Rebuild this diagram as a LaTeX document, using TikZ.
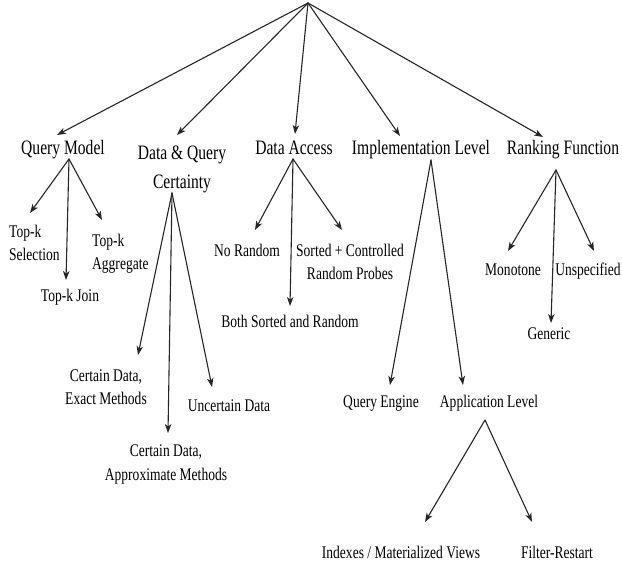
\documentclass[tikz,border=0pt]{standalone}
\usepackage{fontspec}
\setmainfont{Liberation Serif}[FakeStretch=0.76]
\usetikzlibrary{calc}
% arrow from #1 to #2, head drawn as a plain filled path
\newcommand\treeedge[2]{%
    \draw[edge,shorten >=5pt] (#1)--(#2);
    \fill[black!85] (#2) -- ($(#2)!9pt!(#1)!3.3pt!90:(#1)$) -- ($(#2)!6.5pt!(#1)$)
    -- ($(#2)!9pt!(#1)!3.3pt!-90:(#1)$) -- cycle;}
\begin{document}
\begin{tikzpicture}[x=1pt,y=1pt,line cap=round,
    cat/.style={anchor=base,inner sep=0pt,align=center,text=black,font=\fontsize{20.5}{29}\selectfont},
    leaf/.style={anchor=base,inner sep=0pt,align=center,text=black,font=\fontsize{17.8}{23.5}\selectfont},
    edge/.style={draw=black!85,line width=1.1pt}]
    \useasboundingbox (0,0) rectangle (622,-564);
    % top of the tree
    \coordinate (root) at (308,-3);
    % first level
    \node[cat] (qm) at (63,-155) {Query Model};
    \node[cat] (dqc) at (182,-189) {Data \& Query\\Certainty};
    \node[cat] (da) at (294,-155) {Data Access};
    \node[cat] (il) at (421,-155) {Implementation Level};
    \node[cat] (rf) at (563,-155) {Ranking Function};
    \coordinate (qm-t) at (57,-135);
    \coordinate (dqc-t) at (177,-135);
    \coordinate (da-t) at (295,-134);
    \coordinate (il-t) at (400,-136);
    \coordinate (rf-t) at (543,-137);
    \coordinate (qm-a) at (69,-159);
    \coordinate (dqc-a) at (172,-193);
    \coordinate (da-a) at (293,-159);
    \coordinate (il-a) at (431,-160);
    \coordinate (rf-a) at (556,-170);
    % query model
    \node[leaf,anchor=base west,align=left] (sel) at (9,-261) {Top-k\\Selection};
    \node[leaf] (join) at (70,-302) {Top-k Join};
    \node[leaf,anchor=base west,align=left] (agg) at (92,-270) {Top-k\\Aggregate};
    \coordinate (sel-t) at (30,-213);
    \coordinate (join-t) at (66,-280);
    \coordinate (agg-t) at (102,-220);
    % data and query certainty
    \node[leaf] (exact) at (106,-405) {Certain Data,\\Exact Methods};
    \node[leaf] (approx) at (166,-480) {Certain Data,\\Approximate Methods};
    \node[leaf] (unc) at (229,-412) {Uncertain Data};
    \coordinate (exact-t) at (138,-355);
    \coordinate (approx-t) at (168,-433);
    \coordinate (unc-t) at (212,-387);
    % data access
    \node[leaf] (norand) at (247,-257) {No Random};
    \node[leaf] (both) at (290,-328) {Both Sorted and Random};
    \node[leaf] (probes) at (350,-280) {Sorted + Controlled\\Random Probes};
    \coordinate (norand-t) at (255,-230);
    \coordinate (both-t) at (290,-306);
    \coordinate (probes-t) at (342,-230);
    % implementation level
    \node[leaf] (qe) at (381,-407) {Query Engine};
    \node[leaf] (app) at (489,-407) {Application Level};
    \coordinate (qe-t) at (390,-385);
    \coordinate (app-t) at (463,-385);
    \coordinate (app-a) at (485,-420);
    \node[leaf] (views) at (401,-558) {Indexes / Materialized Views};
    \node[leaf] (filter) at (557,-558) {Filter-Restart};
    \coordinate (views-t) at (425,-522);
    \coordinate (filter-t) at (532,-522);
    % ranking function
    \node[leaf] (mono) at (513,-276) {Monotone};
    \node[leaf] (gen) at (549,-340) {Generic};
    \node[leaf] (unsp) at (588,-276) {Unspecified};
    \coordinate (mono-t) at (508,-251);
    \coordinate (gen-t) at (551,-323);
    \coordinate (unsp-t) at (594,-251);
    % connectors
    \foreach \a/\b in {root/qm-t,root/dqc-t,root/da-t,root/il-t,root/rf-t,
        qm-a/sel-t,qm-a/join-t,qm-a/agg-t,
        dqc-a/exact-t,dqc-a/approx-t,dqc-a/unc-t,
        da-a/norand-t,da-a/both-t,da-a/probes-t,
        il-a/qe-t,il-a/app-t,app-a/views-t,app-a/filter-t,
        rf-a/mono-t,rf-a/gen-t,rf-a/unsp-t}
        {\treeedge{\a}{\b}}
\end{tikzpicture}
\end{document}
